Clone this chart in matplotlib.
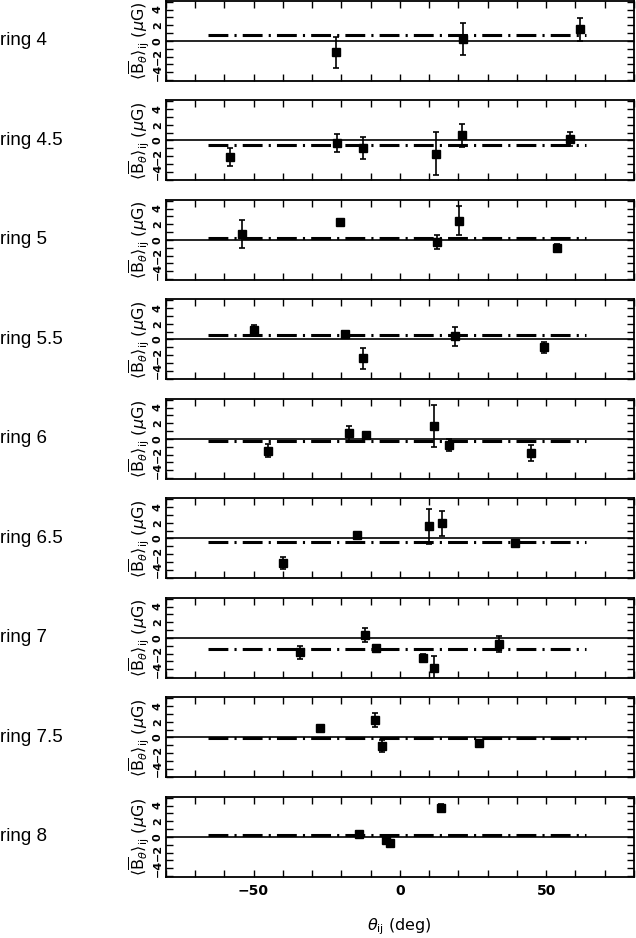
import matplotlib
matplotlib.use("Agg")
import matplotlib.pyplot as plt
from matplotlib.ticker import MultipleLocator, FixedLocator

rings = ["ring 4", "ring 4.5", "ring 5", "ring 5.5", "ring 6", "ring 6.5", "ring 7", "ring 7.5", "ring 8"]

mean_levels = [0.8, -0.55, 0.25, 0.6, -0.25, -0.4, -1.4, -0.03, 0.3]

theta = [
    [-21.9, 21.6, 61.6],
    [-58.2, -21.5, -12.7, 12.5, 21.2, 58.2],
    [-53.9, -20.4, 12.7, 20.2, 53.7],
    [-49.9, -18.8, -12.6, 18.7, 49.4],
    [-45.0, -17.3, -11.6, 11.5, 16.8, 44.7],
    [-40.0, -14.8, 10.1, 14.5, 39.5],
    [-34.2, -12.0, -8.3, 8.0, 11.6, 33.9],
    [-27.3, -8.6, -6.0, 27.0],
    [-14.1, -4.8, -3.5, 13.9],
]
bval = [
    [-1.45, 0.25, 1.48],
    [-2.07, -0.34, -0.97, -1.69, 0.63, 0.13],
    [0.72, 2.3, -0.26, 2.47, -0.98],
    [1.23, 0.68, -2.43, 0.38, -1.02],
    [-1.5, 0.69, 0.47, 1.63, -0.73, -1.76],
    [-3.09, 0.43, 1.52, 1.91, -0.6],
    [-1.85, 0.39, -1.33, -2.54, -3.83, -0.77],
    [1.16, 2.24, -1.08, -0.69],
    [0.34, -0.43, -0.73, 3.7],
]
berr = [
    [2.0, 2.0, 1.5],
    [1.15, 1.1, 1.4, 2.7, 1.5, 0.9],
    [1.8, 0.4, 0.85, 1.8, 0.4],
    [0.55, 0.2, 1.3, 1.2, 0.7],
    [0.8, 0.9, 0.45, 2.7, 0.75, 1.0],
    [0.75, 0.2, 2.2, 1.6, 0.35],
    [0.85, 0.9, 0.15, 0.5, 1.5, 1.0],
    [0.45, 0.9, 0.75, 0.3],
    [0.15, 0.15, 0.2, 0.45],
]

line_x = [-65.5, 63.5]

W, H = 636, 938
fig = plt.figure(figsize=(W / 100, H / 100), dpi=100)

left_px, right_px = 165.7, 634.0
panel_h = 80.0
pitch = 99.5
top0 = 0.9

for i, name in enumerate(rings):
    top = top0 + pitch * i
    ax = fig.add_axes([left_px / W, 1 - (top + panel_h) / H, (right_px - left_px) / W, panel_h / H])
    ax.set_xlim(-80, 80)
    ax.set_ylim(-5.1, 5.1)
    ax.axhline(0, color="black", lw=1.2, zorder=1)
    ax.plot(line_x, [mean_levels[i]] * 2, color="black", lw=2.2,
            dashes=(6.5, 2.0, 0.7, 2.0), zorder=2)
    ax.errorbar(theta[i], bval[i], yerr=berr[i], fmt="s", color="black",
                ms=5.2, elinewidth=1.2, capsize=2.3, capthick=1.2, zorder=3)
    for s in ax.spines.values():
        s.set_linewidth(1.3)
    ax.xaxis.set_major_locator(FixedLocator([-50, 0, 50]))
    ax.xaxis.set_minor_locator(MultipleLocator(10))
    ax.yaxis.set_major_locator(FixedLocator([-4, -2, 0, 2, 4]))
    ax.yaxis.set_minor_locator(MultipleLocator(1))
    ax.tick_params(which="both", direction="in", top=True, right=True,
                   length=5, width=1.0)
    ax.tick_params(axis="y", labelrotation=90, labelsize=8, pad=2)
    ax.set_yticklabels(["\u22124", "\u22122", "0", "2", "4"], fontweight="bold")
    for lab in ax.get_yticklabels():
        lab.set_va("center")
    ax.set_ylabel(r"$\langle\overline{\mathrm{B}}_{\theta}\rangle_{\mathrm{ij}}$ ($\mu$G)", fontsize=11.5)
    ax.yaxis.set_label_coords(-0.029, 0.5)
    if i < len(rings) - 1:
        ax.set_xticklabels([])
    else:
        ax.tick_params(axis="x", labelsize=10, pad=5)
        for lab in ax.get_xticklabels():
            lab.set_fontweight("bold")
        ax.set_xlabel(r"$\theta_{\mathrm{ij}}$ (deg)", fontsize=11.5, labelpad=13)
    zero_px = top + panel_h / 2
    fig.text(0.0, 1 - zero_px / H, name, fontsize=13.5, family="Liberation Sans",
             ha="left", va="center")

fig.savefig("out.png", dpi=100)
